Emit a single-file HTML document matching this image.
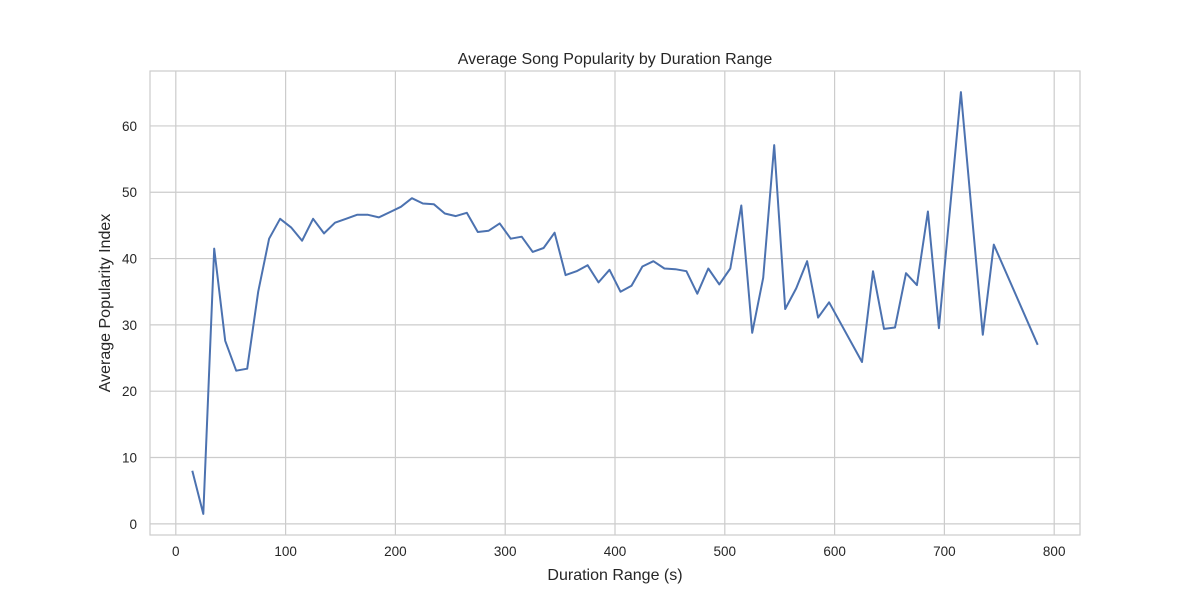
<!DOCTYPE html>
<html><head><meta charset="utf-8"><style>body{margin:0;background:#fff}svg{display:block}text{font-family:"Liberation Sans",sans-serif;fill:#262626}</style></head>
<body>
<svg id="chart" width="1200" height="600">
<rect x="150" y="71" width="930" height="464" fill="#fff" stroke="#ccc" stroke-width="1.2"/>
<g id="grid"></g>
<path id="line" fill="none" stroke="#4c72b0" stroke-width="2" stroke-linejoin="round"/>
<g id="ticks"></g>
<text x="615" y="64" font-size="16" text-anchor="middle">Average Song Popularity by Duration Range</text>
<text x="615" y="580" font-size="16" text-anchor="middle">Duration Range (s)</text>
<text transform="translate(110,303) rotate(-90)" font-size="16" text-anchor="middle">Average Popularity Index</text>
</svg>
<script>
const durations=[15,25,35,45,55,65,75,85,95,105,115,125,135,145,155,165,175,185,195,205,215,225,235,245,255,265,275,285,295,305,315,325,335,345,355,365,375,385,395,405,415,425,435,445,455,465,475,485,495,505,515,525,535,545,555,565,575,585,595,625,635,645,655,665,675,685,695,705,715,725,735,745,785];
const popularity=[8.0,1.5,41.5,27.6,23.1,23.4,35,43,46,44.7,42.7,46,43.8,45.4,46,46.6,46.6,46.2,47,47.8,49.1,48.3,48.2,46.8,46.4,46.9,44,44.2,45.3,43,43.3,41,41.6,43.9,37.5,38.1,39,36.4,38.3,35,35.9,38.8,39.6,38.5,38.4,38.1,34.7,38.5,36.1,38.5,48,28.8,37.1,57.1,32.4,35.5,39.6,31.1,33.4,24.4,38.1,29.4,29.6,37.8,36,47.1,29.5,47.3,65.1,46.8,28.5,42.1,27];
const xTicks=[0,100,200,300,400,500,600,700,800];
const yTicks=[0,10,20,30,40,50,60];
const X0=150,X1=1080,Y0=535,Y1=71,xmin=-23.5,xmax=823.5,ymin=-1.68,ymax=68.28;
const sx=v=>X0+(v-xmin)/(xmax-xmin)*(X1-X0);
const sy=v=>Y0-(v-ymin)/(ymax-ymin)*(Y0-Y1);
const NS="http://www.w3.org/2000/svg";
const grid=document.getElementById('grid'),ticks=document.getElementById('ticks');
function mk(tag,attrs,parent){const e=document.createElementNS(NS,tag);for(const k in attrs)e.setAttribute(k,attrs[k]);parent.appendChild(e);return e;}
xTicks.forEach(t=>{
 const l=mk('line',{x1:sx(t),x2:sx(t),y1:Y1,y2:Y0,stroke:'#ccc','stroke-width':1.2},grid);
 
 
 const tx=mk('text',{x:sx(t),y:556,'font-size':13.5,'text-anchor':'middle'},ticks);
 tx.textContent=t;
 
 
});
yTicks.forEach(t=>{
 const l=mk('line',{x1:X0,x2:X1,y1:sy(t),y2:sy(t),stroke:'#ccc','stroke-width':1.2},grid);
 
 
 const tx=mk('text',{x:137,y:sy(t)+5,'font-size':13.5,'text-anchor':'end'},ticks);
 tx.textContent=t;
 
 
});
document.getElementById('line').setAttribute('d',durations.map((d,i)=>(i?'L':'M')+sx(d).toFixed(1)+','+sy(popularity[i]).toFixed(1)).join(''));
</script>
</body></html>
